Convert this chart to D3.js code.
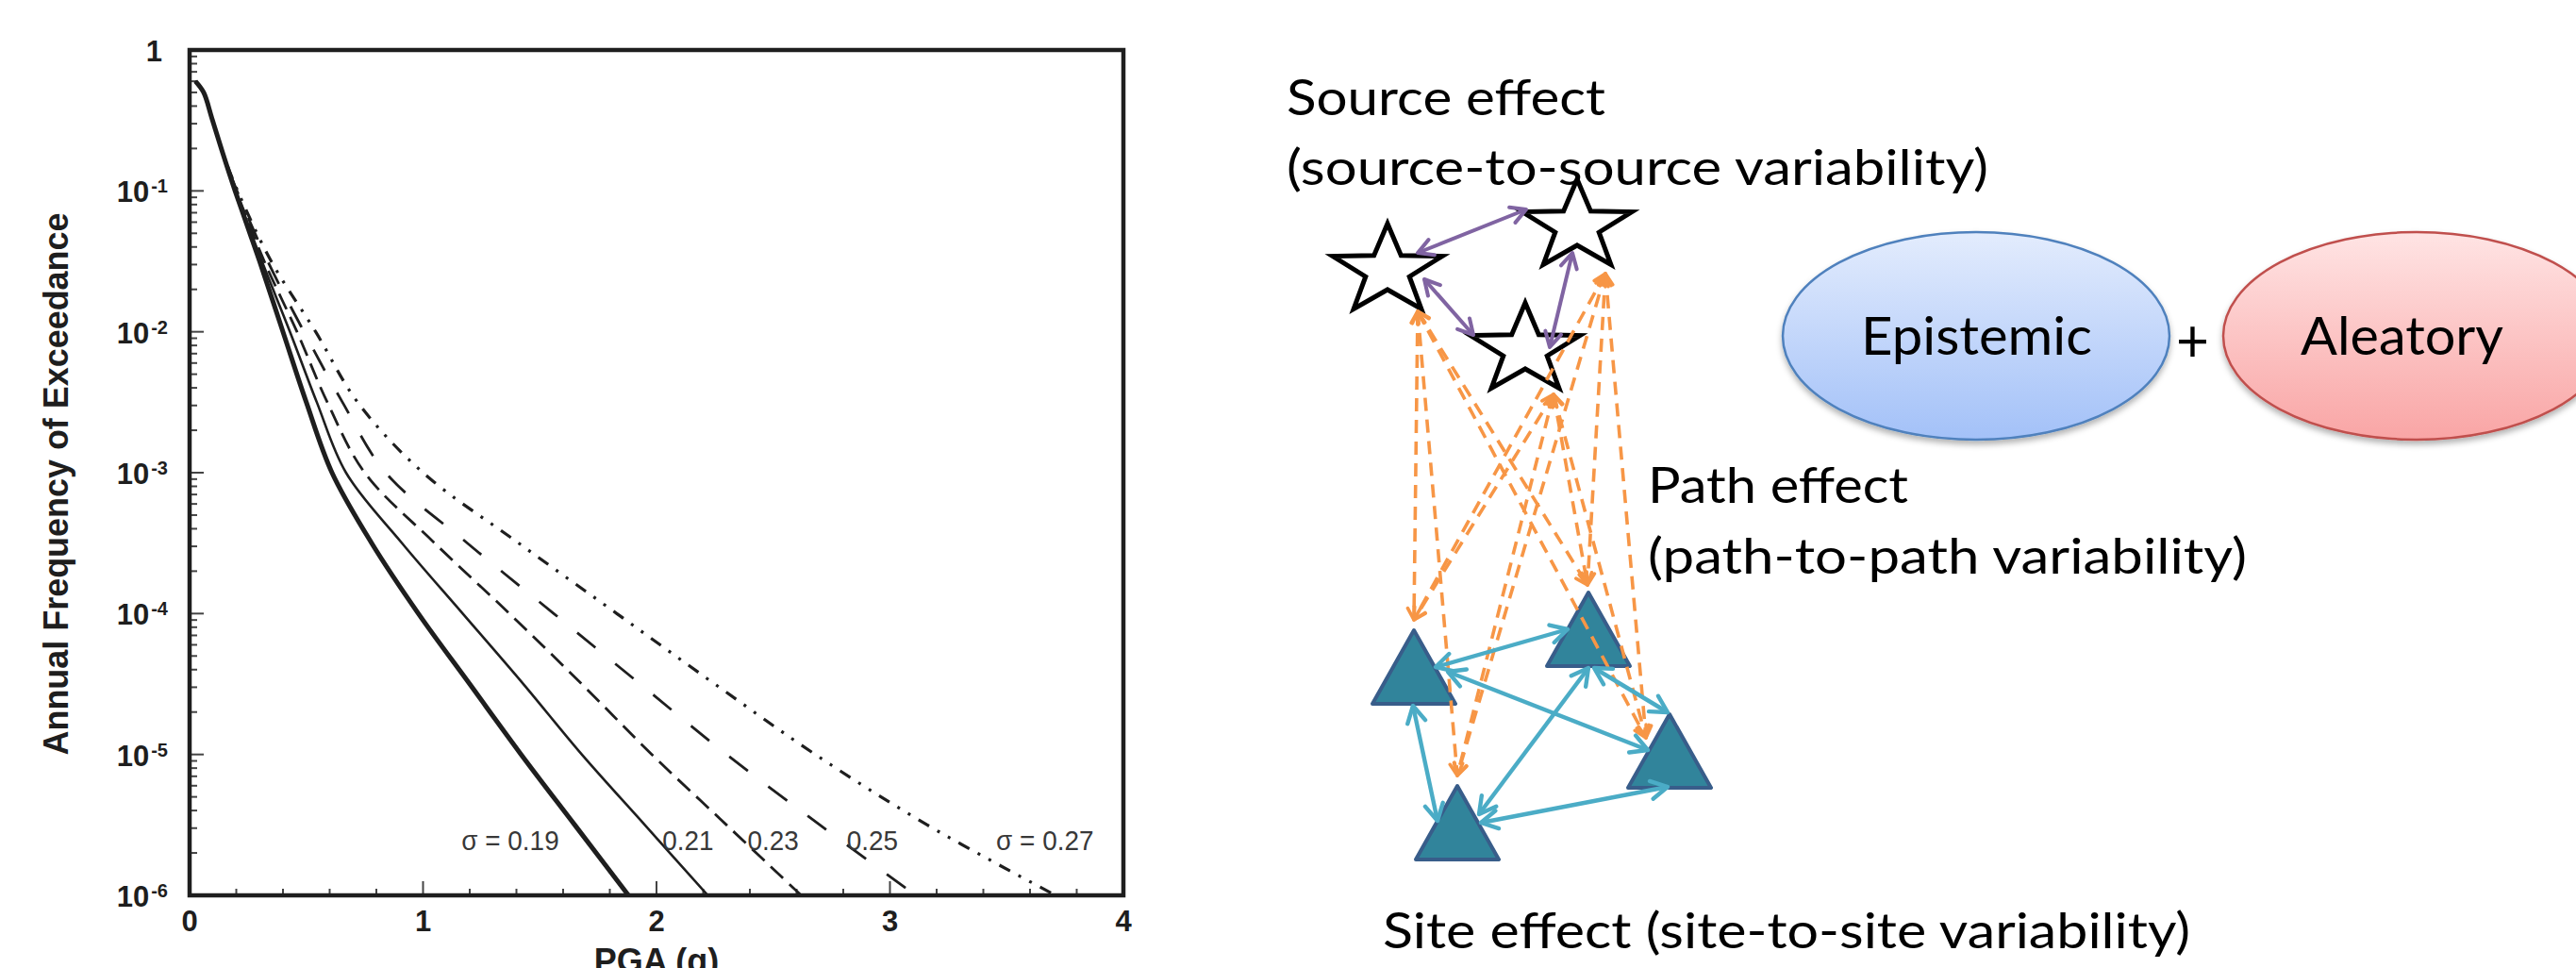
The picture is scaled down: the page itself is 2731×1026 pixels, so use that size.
<!DOCTYPE html>
<html>
<head>
<meta charset="utf-8">
<script src="https://cdn.jsdelivr.net/npm/d3@7"></script>
<style>
  html, body { margin: 0; padding: 0; background: #fff; }
  svg { display: block; }
</style>
</head>
<body>
<script>
// hazard curves
const sigmaLabels = ["σ = 0.19", "0.21", "0.23", "0.25", "σ = 0.27"]
const labelPga = [1.165, 2.025, 2.39, 2.815, 3.455]
const labelAfe = 2.1e-6

// the curves share this head near zero
const headPga = [0.025, 0.06, 0.095, 0.14]
const headAfe = [0.60, 0.50, 0.33, 0.19]

// PGA where each curve crosses these frequencies (half decades)
const afeLevels = [1e-1, 3.16e-2, 1e-2, 3.16e-3, 1e-3, 3.16e-4, 1e-4, 3.16e-5, 1e-5, 3.16e-6, 1e-6]
const pga019 = [0.195, 0.30, 0.40, 0.50, 0.61, 0.78, 0.98, 1.20, 1.42, 1.65, 1.88]
const pga021 = [0.197, 0.31, 0.43, 0.545, 0.67, 0.91, 1.17, 1.43, 1.68, 1.95, 2.22]
const pga023 = [0.20, 0.32, 0.46, 0.59, 0.75, 1.05, 1.37, 1.68, 1.98, 2.30, 2.62]
const pga025 = [0.203, 0.335, 0.49, 0.655, 0.84, 1.19, 1.56, 1.93, 2.30, 2.70, 3.11]
const pga027 = [0.206, 0.35, 0.54, 0.72, 1.00, 1.41, 1.83, 2.25, 2.68, 3.16, 3.71]
const curves = [pga019, pga021, pga023, pga025, pga027]

const xTicks = [0, 1, 2, 3, 4]
const yTicks = [1, 1e-1, 1e-2, 1e-3, 1e-4, 1e-5, 1e-6]

// diagram nodes
const sourceNodes = [[1471, 287], [1672, 240], [1617, 371]]
const siteNodes = [[1499, 668], [1684, 628], [1770, 757], [1545, 833]]
const sourceLinks = [
  [[1503, 268], [1618, 222]],
  [[1510, 296], [1562, 355]],
  [[1667, 268], [1643, 368]]
]
const siteLinks = [
  [[1522, 707], [1662, 667]],
  [[1535, 712], [1747, 795]],
  [[1498, 748], [1524, 870]],
  [[1690, 708], [1768, 755]],
  [[1684, 708], [1568, 863]],
  [[1768, 834], [1570, 872]]
]
const pathFrom = [[1503, 330], [1702, 290], [1647, 418]]
const pathTo = [[1499, 657], [1683, 620], [1745, 782], [1545, 822]]

const width = 2731,
  height = 1026

const svg = d3.select("body")
  .append("svg")
  .attr("width", width)
  .attr("height", height)

svg.append("rect")
  .attr("width", "100%")
  .attr("height", "100%")
  .attr("fill", "white")

const defs = svg.append("defs")

// ---------------- hazard plot ----------------
const plot = { left: 201, right: 1191, top: 53, bottom: 949 }
const x = d3.scaleLinear().domain([0, 4]).range([plot.left, plot.right])
const y = d3.scaleLog().domain([1e-6, 1]).range([plot.bottom, plot.top])

defs.append("clipPath")
  .attr("id", "plot-clip")
  .append("rect")
  .attr("x", plot.left)
  .attr("y", plot.top)
  .attr("width", plot.right - plot.left)
  .attr("height", plot.bottom - plot.top)

const ink = "#1e1e1e"

// minor / major ticks, drawn inside the box
const yMinor = []
d3.range(-6, 0).forEach(e => {
  d3.range(2, 10).forEach(m => yMinor.push(m * Math.pow(10, e)))
})
svg.append("g")
  .selectAll("line")
  .data(yMinor)
  .join("line")
  .attr("x1", plot.left)
  .attr("x2", plot.left + 8)
  .attr("y1", d => y(d))
  .attr("y2", d => y(d))
  .attr("stroke", "#444")
  .attr("stroke-width", 2)
svg.append("g")
  .selectAll("line")
  .data(yTicks)
  .join("line")
  .attr("x1", plot.left)
  .attr("x2", plot.left + 15)
  .attr("y1", d => y(d))
  .attr("y2", d => y(d))
  .attr("stroke", "#444")
  .attr("stroke-width", 2)

const xMinor = d3.range(1, 20).map(i => i * 0.2).filter(d => Math.abs(d - Math.round(d)) > 0.01)
svg.append("g")
  .selectAll("line")
  .data(xMinor)
  .join("line")
  .attr("x1", d => x(d))
  .attr("x2", d => x(d))
  .attr("y1", plot.bottom)
  .attr("y2", plot.bottom - 7)
  .attr("stroke", "#444")
  .attr("stroke-width", 2)
svg.append("g")
  .selectAll("line")
  .data(xTicks.slice(1, -1))
  .join("line")
  .attr("x1", d => x(d))
  .attr("x2", d => x(d))
  .attr("y1", plot.bottom)
  .attr("y2", plot.bottom - 15)
  .attr("stroke", "#444")
  .attr("stroke-width", 2)

// curves
const lineStyles = [
  { w: 5, dash: null },
  { w: 2.6, dash: null },
  { w: 2.8, dash: "18,9" },
  { w: 2.8, dash: "25,27" },
  { w: 3.2, dash: "13,10,3,10,3,10" }
]
const line = d3.line()
  .x(d => x(d[0]))
  .y(d => y(d[1]))
  .curve(d3.curveCatmullRom.alpha(0.5))

svg.append("g")
  .attr("clip-path", "url(#plot-clip)")
  .selectAll("path")
  .data(curves)
  .join("path")
  .attr("d", (pgas) => {
    const pts = headPga.map((p, i) => [p, headAfe[i]])
    pgas.forEach((p, i) => pts.push([p, afeLevels[i]]))
    return line(pts)
  })
  .attr("fill", "none")
  .attr("stroke", ink)
  .attr("stroke-width", (_d, i) => lineStyles[i].w)
  .attr("stroke-dasharray", (_d, i) => lineStyles[i].dash)
  .attr("stroke-linejoin", "round")

// frame
svg.append("rect")
  .attr("x", plot.left)
  .attr("y", plot.top)
  .attr("width", plot.right - plot.left)
  .attr("height", plot.bottom - plot.top)
  .attr("fill", "none")
  .attr("stroke", ink)
  .attr("stroke-width", 4.5)

// sigma labels, a bit condensed like the original
svg.append("g")
  .selectAll("text")
  .data(sigmaLabels)
  .join("text")
  .text(d => d)
  .attr("x", (_d, i) => x(labelPga[i]))
  .attr("y", y(labelAfe))
  .attr("font-family", "'Liberation Sans', Arial, sans-serif")
  .attr("font-size", 30)
  .attr("fill", "#383838")
  .each(function () {
    const len = this.getComputedTextLength()
    d3.select(this)
      .attr("textLength", len * 0.93)
      .attr("lengthAdjust", "spacingAndGlyphs")
  })

// y tick labels
const yLab = svg.append("g")
  .attr("font-family", "'Liberation Sans', Arial, sans-serif")
  .attr("font-weight", "bold")
  .attr("fill", ink)
  .attr("text-anchor", "end")
yTicks.forEach(d => {
  const e = Math.round(Math.log10(d))
  const t = yLab.append("text")
    .attr("y", y(d) + 12)
  if (e === 0) {
    t.attr("x", plot.left - 29)
      .attr("font-size", 31)
      .text("1")
  } else {
    t.attr("x", plot.left - 23)
    t.append("tspan").attr("font-size", 31).text("10")
    t.append("tspan")
      .attr("font-size", 20)
      .attr("dx", 2)
      .attr("dy", -10)
      .text(e)
  }
})

// x tick labels
svg.append("g")
  .selectAll("text")
  .data(xTicks)
  .join("text")
  .text(d => d)
  .attr("x", d => x(d))
  .attr("y", plot.bottom + 38)
  .attr("text-anchor", "middle")
  .attr("font-family", "'Liberation Sans', Arial, sans-serif")
  .attr("font-weight", "bold")
  .attr("font-size", 31)
  .attr("fill", ink)

// axis titles (x title is cut by the bottom edge, as in the original)
svg.append("text")
  .text("PGA (g)")
  .attr("x", (plot.left + plot.right) / 2)
  .attr("y", 1031)
  .attr("text-anchor", "middle")
  .attr("font-family", "'Liberation Sans', Arial, sans-serif")
  .attr("font-weight", "bold")
  .attr("font-size", 36)
  .attr("fill", ink)

svg.append("text")
  .text("Annual Frequency of Exceedance")
  .attr("transform", "translate(72,513) rotate(-90)")
  .attr("text-anchor", "middle")
  .attr("font-family", "'Liberation Sans', Arial, sans-serif")
  .attr("font-weight", "bold")
  .attr("font-size", 36)
  .attr("textLength", 575)
  .attr("lengthAdjust", "spacingAndGlyphs")
  .attr("fill", ink)

// ---------------- variability diagram ----------------
const gradient = (id, top, bottom) => {
  const g = defs.append("linearGradient")
    .attr("id", id)
    .attr("x1", 0).attr("y1", 0)
    .attr("x2", 0).attr("y2", 1)
  g.append("stop").attr("offset", 0).attr("stop-color", top)
  g.append("stop").attr("offset", 1).attr("stop-color", bottom)
}
gradient("epi-fill", "#e3ecfd", "#a3c1f8")
gradient("alea-fill", "#ffe4e4", "#f9a5a5")

defs.append("filter")
  .attr("id", "shadow")
  .attr("x", "-10%").attr("y", "-10%")
  .attr("width", "120%").attr("height", "130%")
  .append("feDropShadow")
  .attr("dx", 0).attr("dy", 4)
  .attr("stdDeviation", 3)
  .attr("flood-color", "#000")
  .attr("flood-opacity", 0.3)

const ellipses = [
  { cx: 2095, fill: "url(#epi-fill)", stroke: "#4f81bd" },
  { cx: 2562, fill: "url(#alea-fill)", stroke: "#c0504d" }
]
svg.append("g")
  .selectAll("ellipse")
  .data(ellipses)
  .join("ellipse")
  .attr("cx", d => d.cx)
  .attr("cy", 356)
  .attr("rx", 205)
  .attr("ry", 110)
  .attr("fill", d => d.fill)
  .attr("stroke", d => d.stroke)
  .attr("stroke-width", 2.5)
  .attr("filter", "url(#shadow)")

// stars
const starPath = (rx, ry, inner) => {
  const pts = d3.range(10).map(i => {
    const a = -Math.PI / 2 + i * Math.PI / 5
    const r = i % 2 === 0 ? 1 : inner
    return [Math.cos(a) * r * rx, Math.sin(a) * r * ry]
  })
  return "M" + pts.join("L") + "Z"
}
svg.append("g")
  .selectAll("path")
  .data(sourceNodes)
  .join("path")
  .attr("d", starPath(61, 50, 0.4))
  .attr("transform", d => `translate(${d[0]},${d[1]})`)
  .attr("fill", "white")
  .attr("stroke", "black")
  .attr("stroke-width", 5)

// triangles (apex given)
svg.append("g")
  .selectAll("path")
  .data(siteNodes)
  .join("path")
  .attr("d", d => `M${d[0]},${d[1]}L${d[0] + 44},${d[1] + 78}L${d[0] - 44},${d[1] + 78}Z`)
  .attr("fill", "#31849b")
  .attr("stroke", "#385d8a")
  .attr("stroke-width", 4)
  .attr("stroke-linejoin", "round")

// double headed arrow helper
const head = (tip, from, len, spread) => {
  const a = Math.atan2(tip[1] - from[1], tip[0] - from[0])
  const p1 = [tip[0] - len * Math.cos(a - spread), tip[1] - len * Math.sin(a - spread)]
  const p2 = [tip[0] - len * Math.cos(a + spread), tip[1] - len * Math.sin(a + spread)]
  return `M${p1}L${tip}L${p2}`
}
const arrows = (links, color, w, headLen, dash) => {
  const g = svg.append("g")
  g.selectAll("line")
    .data(links)
    .join("line")
    .attr("x1", d => d[0][0]).attr("y1", d => d[0][1])
    .attr("x2", d => d[1][0]).attr("y2", d => d[1][1])
    .attr("stroke", color)
    .attr("stroke-width", w)
    .attr("stroke-dasharray", dash)
  g.selectAll("path")
    .data(links)
    .join("path")
    .attr("d", d => head(d[0], d[1], headLen, 0.5) + head(d[1], d[0], headLen, 0.5))
    .attr("fill", "none")
    .attr("stroke", color)
    .attr("stroke-width", w)
    .attr("stroke-linecap", "round")
    .attr("stroke-linejoin", "round")
}

const pathLinks = []
pathFrom.forEach(s => pathTo.forEach(t => pathLinks.push([s, t])))
arrows(pathLinks, "#f79646", 3.6, 14, "14,9")
arrows(sourceLinks, "#8064a2", 4, 18, null)
arrows(siteLinks, "#4bacc6", 4.4, 20, null)

// diagram text
const labels = [
  { t: "Source effect", x: 1364, y: 122, w: 338, s: 53 },
  { t: "(source-to-source variability)", x: 1364, y: 196, w: 744, s: 53 },
  { t: "Path effect", x: 1747, y: 533, w: 276, s: 53 },
  { t: "(path-to-path variability)", x: 1747, y: 608, w: 635, s: 53 },
  { t: "Site effect (site-to-site variability)", x: 1466, y: 1005, w: 856, s: 53 },
  { t: "Epistemic", x: 1973, y: 376, w: 245, s: 56 },
  { t: "Aleatory", x: 2439, y: 376, w: 215, s: 56 },
  { t: "+", x: 2307, y: 384, w: 35, s: 64 }
]
svg.append("g")
  .selectAll("text")
  .data(labels)
  .join("text")
  .text(d => d.t)
  .attr("x", d => d.x)
  .attr("y", d => d.y)
  .attr("font-family", "Lato, 'Open Sans', sans-serif")
  .attr("font-size", d => d.s)
  .attr("textLength", d => d.w)
  .attr("lengthAdjust", "spacingAndGlyphs")
  .attr("fill", "black")
</script>
</body>
</html>
